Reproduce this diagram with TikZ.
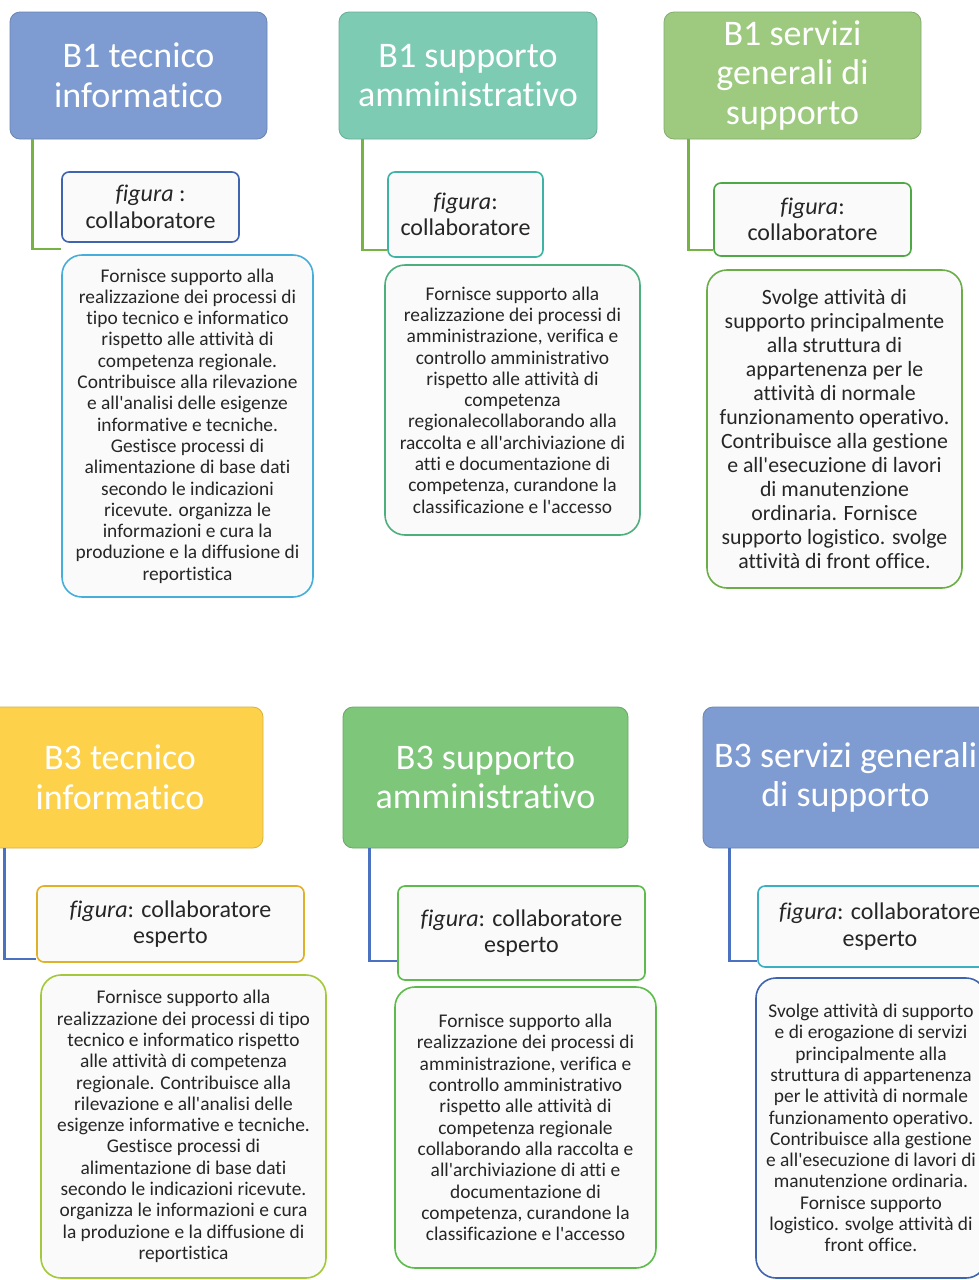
\documentclass[tikz,border=0pt]{standalone}
\usepackage{fontspec}
\setmainfont{Carlito}[Ligatures=NoCommon]
\usepackage{xcolor}
\usetikzlibrary{positioning,calc}

% colours of the six columns
\definecolor{headblue}{HTML}{7E9CD2}
\definecolor{headteal}{HTML}{7DCBB3}
\definecolor{headgreen}{HTML}{9DCA7F}
\definecolor{headyellow}{HTML}{FDD24A}
\definecolor{headmint}{HTML}{7DC67A}
\definecolor{linkgreen}{HTML}{77B244}
\definecolor{linkblue}{HTML}{4A72C0}
\definecolor{boxfill}{HTML}{FAFAFA}
\definecolor{textgrey}{HTML}{262626}
% borders
\definecolor{edgenavy}{HTML}{4065B0}
\definecolor{edgeteal}{HTML}{3DB3A6}
\definecolor{edgegreen}{HTML}{4FA846}
\definecolor{edgesky}{HTML}{45AEDB}
\definecolor{edgesea}{HTML}{4EAF7E}
\definecolor{edgeleaf}{HTML}{6BAE46}
\definecolor{edgegold}{HTML}{E0B027}
\definecolor{edgemint}{HTML}{5CBB4B}
\definecolor{edgecyan}{HTML}{3BB0C3}
\definecolor{edgelime}{HTML}{A4C83C}

\newcommand{\headsize}{\fontsize{36}{39.6}\selectfont}
\newcommand{\figsize}{\fontsize{24}{26.6}\selectfont}
\newcommand{\descsize}{\fontsize{19.4}{21.3}\selectfont}
\newcommand{\descbig}{\fontsize{21.8}{24}\selectfont}
\newcommand{\apos}{\textquotesingle}

\begin{document}
\begin{tikzpicture}[
    x=1pt,
    y=-1pt,
    header/.style={rounded corners=10pt, inner sep=0pt, align=center, text=white,
        font=\headsize, line width=0.8pt},
    figbox/.style={draw, line width=1.6pt, rounded corners=7pt, fill=boxfill,
        inner sep=0pt, align=center, text=textgrey, font=\figsize},
    descbox/.style={draw, line width=1.6pt, rounded corners=20pt, fill=boxfill,
        inner sep=0pt, align=center, text=textgrey, font=\descsize},
    link/.style={line width=2.4pt}
]
    \useasboundingbox (0,0) rectangle (979,1280);
    \fill[white] (0,0) rectangle (979,1280);

    % B1 headers
    \node[header, fill=headblue, draw=headblue!85!black, minimum width=257pt, minimum height=127pt]
        (hta) at (138.5,75.5) {B1 tecnico\\informatico};
    \node[header, fill=headteal, draw=headteal!85!black, minimum width=258pt, minimum height=127pt]
        (hsa) at (468,75.5) {B1 supporto\\amministrativo};
    \node[header, fill=headgreen, draw=headgreen!85!black, minimum width=257pt, minimum height=127pt]
        (hga) at (792.5,75.5) {B1 servizi\\generali di\\supporto};

    % B1 figure boxes
    \node[figbox, draw=edgenavy, minimum width=177pt, minimum height=70pt]
        (fta) at (150.5,207) {\textit{figura} :\\collaboratore};
    \node[figbox, draw=edgeteal, minimum width=155pt, minimum height=85pt]
        (fsa) at (465.5,214.5) {\textit{figura}:\\collaboratore};
    \node[figbox, draw=edgegreen, minimum width=197pt, minimum height=73pt]
        (fga) at (812.5,219.5) {\textit{figura}:\\collaboratore};

    % B1 descriptions
    \node[descbox, draw=edgesky, minimum width=251pt, minimum height=342pt]
        (dta) at (187.5,426) {Fornisce supporto alla\\realizzazione dei processi di\\tipo tecnico e informatico\\rispetto alle attività di\\competenza regionale.\\Contribuisce alla rilevazione\\e all\apos analisi delle esigenze\\informative e tecniche.\\Gestisce processi di\\alimentazione di base dati\\secondo le indicazioni\\ricevute. organizza le\\informazioni e cura la\\produzione e la diffusione di\\reportistica};
    \node[descbox, draw=edgesea, minimum width=255pt, minimum height=270pt]
        (dsa) at (512.5,400) {Fornisce supporto alla\\realizzazione dei processi di\\amministrazione, verifica e\\controllo amministrativo\\rispetto alle attività di\\competenza\\regionalecollaborando alla\\raccolta e all\apos archiviazione di\\atti e documentazione di\\competenza, curandone la\\classificazione e l\apos accesso};
    \node[descbox, draw=edgeleaf, minimum width=255pt, minimum height=318pt, font=\descbig]
        (dga) at (834.5,429) {Svolge attività di\\supporto principalmente\\alla struttura di\\appartenenza per le\\attività di normale\\funzionamento operativo.\\Contribuisce alla gestione\\e all\apos esecuzione di lavori\\di manutenzione\\ordinaria. Fornisce\\supporto logistico. svolge\\attività di front office.};

    % B1 links
    \draw[link, linkgreen] ([xshift=23pt]hta.south west) |- ([yshift=-6pt]fta.south west);
    \draw[link, linkgreen] ([xshift=24pt]hsa.south west) |- ([yshift=8pt]fsa.south west);
    \draw[link, linkgreen] ([xshift=25pt]hga.south west) |- ([yshift=7pt]fga.south west);

    % B3 headers
    \node[header, fill=headyellow, draw=headyellow!85!black, minimum width=286pt, minimum height=141pt]
        (htb) at (120,777.5) {B3 tecnico\\informatico};
    \node[header, fill=headmint, draw=headmint!85!black, minimum width=285pt, minimum height=141pt]
        (hsb) at (485.5,777.5) {B3 supporto\\amministrativo};
    \node[header, fill=headblue, draw=headblue!85!black, minimum width=285pt, minimum height=141pt]
        (hgb) at (845.5,777.5) {B3 servizi generali\\di supporto};

    % B3 figure boxes
    \node[figbox, draw=edgegold, minimum width=267pt, minimum height=76pt]
        (ftb) at (170.5,924) {\textit{figura}: collaboratore\\esperto};
    \node[figbox, draw=edgemint, minimum width=247pt, minimum height=94pt]
        (fsb) at (521.5,933) {\textit{figura}: collaboratore\\esperto};
    \node[figbox, draw=edgecyan, minimum width=244pt, minimum height=81pt]
        (fgb) at (880,926.5) {\textit{figura}: collaboratore\\esperto};

    % B3 descriptions
    \node[descbox, draw=edgelime, minimum width=285pt, minimum height=303pt]
        (dtb) at (183.5,1126.5) {Fornisce supporto alla\\realizzazione dei processi di tipo\\tecnico e informatico rispetto\\alle attività di competenza\\regionale. Contribuisce alla\\rilevazione e all\apos analisi delle\\esigenze informative e tecniche.\\Gestisce processi di\\alimentazione di base dati\\secondo le indicazioni ricevute.\\organizza le informazioni e cura\\la produzione e la diffusione di\\reportistica};
    \node[descbox, draw=edgemint, minimum width=261pt, minimum height=281pt]
        (dsb) at (525.5,1127.5) {Fornisce supporto alla\\realizzazione dei processi di\\amministrazione, verifica e\\controllo amministrativo\\rispetto alle attività di\\competenza regionale\\collaborando alla raccolta e\\all\apos archiviazione di atti e\\documentazione di\\competenza, curandone la\\classificazione e l\apos accesso};
    \node[descbox, draw=edgenavy, minimum width=230pt, minimum height=300pt]
        (dgb) at (871,1128) {Svolge attività di supporto\\e di erogazione di servizi\\principalmente alla\\struttura di appartenenza\\per le attività di normale\\funzionamento operativo.\\Contribuisce alla gestione\\e all\apos esecuzione di lavori di\\manutenzione ordinaria.\\Fornisce supporto\\logistico. svolge attività di\\front office.};

    % B3 links
    \draw[link, linkblue] ([xshift=28pt]htb.south west) |- ([yshift=4pt]ftb.south west);
    \draw[link, linkblue] ([xshift=27pt]hsb.south west) |- ([yshift=20pt]fsb.south west);
    \draw[link, linkblue] ([xshift=27pt]hgb.south west) |- ([yshift=7pt]fgb.south west);
\end{tikzpicture}
\end{document}
